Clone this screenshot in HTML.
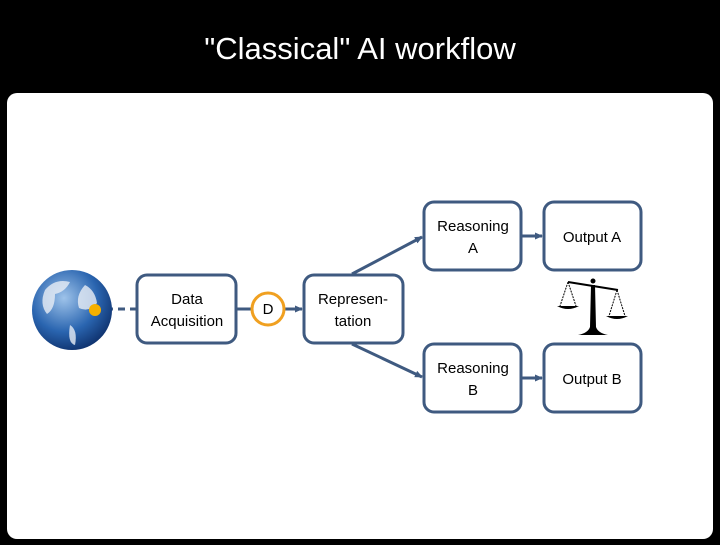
<!DOCTYPE html>
<html><head><style>
body{margin:0;background:#000;width:720px;height:540px;overflow:hidden;font-family:"Liberation Sans",sans-serif}
</style></head><body>
<svg width="720" height="540" xmlns="http://www.w3.org/2000/svg">
<defs>
<radialGradient id="g" cx="0.4" cy="0.35" r="0.7">
<stop offset="0" stop-color="#9ec3ea"/><stop offset="0.6" stop-color="#2a65b0"/><stop offset="1" stop-color="#0d2f6a"/>
</radialGradient>
<marker id="a" markerUnits="userSpaceOnUse" markerWidth="8" markerHeight="8" refX="7" refY="4" orient="auto"><path d="M0,0.5 L8,4 L0,7.5z" fill="#3f5a80"/></marker>
</defs>
<rect x="0" y="0" width="720" height="540" fill="#000"/>
<text x="360" y="59" font-size="31" fill="#fff" text-anchor="middle">"Classical" AI workflow</text>
<rect x="7" y="93" width="706" height="446" rx="10" fill="#fff"/>
<g fill="none" stroke="#3f5a80" stroke-width="3">
<rect x="137" y="275" width="99" height="68" rx="10"/>
<rect x="304" y="275" width="99" height="68" rx="10"/>
<rect x="424" y="202" width="97" height="68" rx="10"/>
<rect x="544" y="202" width="97" height="68" rx="10"/>
<rect x="424" y="344" width="97" height="68" rx="10"/>
<rect x="544" y="344" width="97" height="68" rx="10"/>
<line x1="106" y1="309" x2="137" y2="309" stroke-dasharray="7,5"/>
<line x1="236" y1="309" x2="252" y2="309"/>
<line x1="284" y1="309" x2="302" y2="309" marker-end="url(#a)"/>
<line x1="352" y1="274" x2="422" y2="237" marker-end="url(#a)"/>
<line x1="352" y1="344" x2="422" y2="377" marker-end="url(#a)"/>
<line x1="521" y1="236" x2="542" y2="236" marker-end="url(#a)"/>
<line x1="521" y1="378" x2="542" y2="378" marker-end="url(#a)"/>
</g>
<circle cx="268" cy="309" r="16" fill="#fff" stroke="#f0a020" stroke-width="3"/>
<circle cx="72" cy="310" r="40" fill="url(#g)"/>
<path d="M45,290 q10,-12 25,-8 q-5,10 -15,12 q0,15 -8,20 q-8,-10 -2,-24z M85,285 q10,5 12,18 q-8,10 -18,5 q-4,-12 6,-23z M70,325 q8,5 5,20 q-8,-2 -5,-20z" fill="#e8eef5" opacity="0.8"/>
<circle cx="95" cy="310" r="6" fill="#f5b000"/>
<g font-size="15" fill="#000" text-anchor="middle">
<text x="187" y="304">Data</text><text x="187" y="326">Acquisition</text>
<text x="268" y="314">D</text>
<text x="353" y="304">Represen-</text><text x="353" y="326">tation</text>
<text x="473" y="231">Reasoning</text><text x="473" y="253">A</text>
<text x="592" y="242">Output A</text>
<text x="473" y="373">Reasoning</text><text x="473" y="395">B</text>
<text x="592" y="384">Output B</text>
</g>
<g stroke="#000" fill="none" stroke-width="1">
<line x1="568" y1="282" x2="618" y2="290" stroke-width="2"/>
<path d="M568,282 L560,306 M568,282 L576,306 M617,290 L609,316 M617,290 L625,316" stroke-dasharray="2,1"/>
</g>
<g fill="#000">
<circle cx="593" cy="281" r="2.5"/>
<path d="M557,306 h22 q-11,6 -22,0z M606,316 h22 q-11,6 -22,0z"/>
<path d="M591,285 h4 l1,42 q2,6 12,8 h-30 q10,-2 12,-8z"/>
</g>
</svg>
</body></html>
